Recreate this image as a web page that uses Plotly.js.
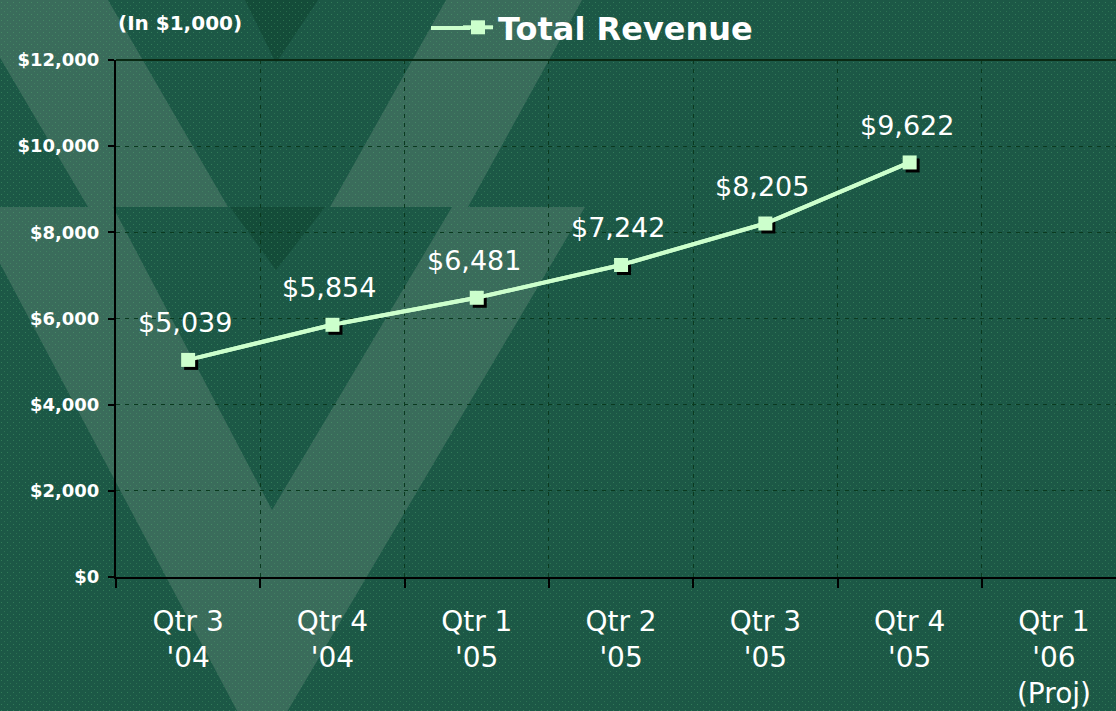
<!DOCTYPE html>
<html><head><meta charset="utf-8">
<script src="https://cdn.plot.ly/plotly-3.0.1.min.js"></script>
<style>
html,body{margin:0;padding:0;background:#1c5846;overflow:hidden}
#wrap{position:relative;width:1116px;height:711px}
#bg{position:absolute;left:0;top:0}
#chart{position:absolute;left:0;top:0;width:1116px;height:711px}
</style></head><body>
<div id="wrap">
<svg id="bg" width="1116" height="711" xmlns="http://www.w3.org/2000/svg">
  <defs>
    <pattern id="dots" width="6" height="6" patternUnits="userSpaceOnUse">
      <rect x="1" y="2" width="1" height="1" fill="rgba(90,190,120,0.35)"/>
      <rect x="4" y="5" width="1" height="1" fill="rgba(90,190,120,0.25)"/>
    </pattern>
  </defs>
  <rect x="0" y="0" width="1116" height="711" fill="#1c5846"/>
  <!-- upper band -->
  <polygon points="-34,0 108,0 228,207 88,207" fill="#3a6c5b"/>
  <polygon points="446,0 582,0 468,207 330,207" fill="#3a6c5b"/>
  <polygon points="245,0 318,0 276,63" fill="#144c39"/>
  <!-- lower band -->
  <polygon points="-30,207 585,207 261,756" fill="#3a6c5b"/>
  <polygon points="113,207 452,207 272,510" fill="#1c5846"/>
  <polygon points="230,207 325,207 276,270" fill="#144c39"/>
  <rect x="0" y="0" width="1116" height="711" fill="url(#dots)"/>
</svg>
<div id="chart"></div>
</div>
<script>
// ---- data ----
const quarters = ["Qtr 3<br>'04", "Qtr 4<br>'04", "Qtr 1<br>'05", "Qtr 2<br>'05", "Qtr 3<br>'05", "Qtr 4<br>'05", "Qtr 1<br>'06<br>(Proj)"];
const revenue = [5039, 5854, 6481, 7242, 8205, 9622, null];
const yTicks = [0, 2000, 4000, 6000, 8000, 10000, 12000];
const seriesName = "Total Revenue";
const unitNote = "(In $1,000)";

// ---- geometry ----
const W = 1116, H = 711;
const M = {l: 116, r: 0, t: 60, b: 134, pad: 0};
const xRange = [-0.5, 6.43];
const yRange = [0, 12000];
const plotW = W - M.l - M.r, plotH = H - M.t - M.b;
const shadowPx = 3;
const dx = shadowPx * (xRange[1] - xRange[0]) / plotW;
const dy = shadowPx * (yRange[1] - yRange[0]) / plotH;
const pxX = px => (px - M.l) / plotW;
const pxY = py => (H - M.b - py) / plotH;

const lineColor = '#ccffcc';
const fontFam = 'DejaVu Sans, Verdana, sans-serif';

const fmt = v => '$' + v.toLocaleString('en-US');

const traces = [
  { // base line on visible axes
    x: quarters, y: revenue, xaxis: 'x', yaxis: 'y', type: 'scatter', mode: 'lines',
    line: {color: lineColor, width: 4}, showlegend: false, hoverinfo: 'skip', connectgaps: false
  },
  { // marker shadows
    x: quarters, y: revenue, xaxis: 'x2', yaxis: 'y2', type: 'scatter', mode: 'markers',
    marker: {symbol: 'square', size: 14, color: '#000'}, showlegend: false, hoverinfo: 'skip'
  },
  { // main series
    x: quarters, y: revenue, xaxis: 'x3', yaxis: 'y3', type: 'scatter', mode: 'lines+markers',
    name: seriesName, line: {color: lineColor, width: 4},
    marker: {symbol: 'square', size: 14, color: lineColor}
  }
];

const annotations = revenue.map((v, i) => v == null ? null : ({
  x: quarters[i], y: v, xref: 'x', yref: 'y', text: fmt(v), showarrow: false,
  xshift: -3, yshift: 37, font: {family: fontFam, size: 27, color: '#ffffff'}
})).filter(a => a);
annotations.push({
  xref: 'paper', yref: 'paper', x: 0.0, y: pxY(23), xanchor: 'left', yanchor: 'middle',
  text: unitNote, showarrow: false, font: {family: fontFam, size: 20, color: '#ffffff', weight: 'bold'}
});

const gridCol = '#0a3a1f';
const layout = {
  width: W, height: H, autosize: false, margin: M,
  paper_bgcolor: 'rgba(0,0,0,0)', plot_bgcolor: 'rgba(0,0,0,0)',
  showlegend: true,
  legend: {
    x: 0.342, y: pxY(27), xanchor: 'left', yanchor: 'middle', orientation: 'h',
    bgcolor: 'rgba(0,0,0,0)', font: {family: fontFam, size: 32, color: '#ffffff', weight: 'bold'}
  },
  xaxis: {
    type: 'category', categoryorder: 'array', categoryarray: quarters, range: xRange,
    tickson: 'boundaries', ticks: 'outside', ticklen: 9, tickwidth: 2, tickcolor: '#000',
    showline: true, linecolor: '#000', linewidth: 2, ticklabelstandoff: 18,
    showgrid: true, gridcolor: gridCol, griddash: '4px,5px', gridwidth: 1,
    tickfont: {family: fontFam, size: 28, color: '#ffffff'}, fixedrange: true
  },
  yaxis: {
    range: yRange, tickmode: 'array', tickvals: yTicks, ticktext: yTicks.map(fmt),
    ticks: 'outside', ticklen: 6, tickwidth: 2, tickcolor: '#000', ticklabelstandoff: 5,
    showline: true, linecolor: '#000', linewidth: 2,
    showgrid: true, gridcolor: gridCol, griddash: '4px,5px', gridwidth: 1, zeroline: false,
    tickfont: {family: fontFam, size: 18, color: '#ffffff', weight: 'bold'}, fixedrange: true
  },
  xaxis2: {type: 'category', categoryorder: 'array', categoryarray: quarters, overlaying: 'x',
    range: [xRange[0] - dx, xRange[1] - dx], visible: false, fixedrange: true},
  yaxis2: {overlaying: 'y', range: [yRange[0] + dy, yRange[1] + dy], visible: false, fixedrange: true},
  xaxis3: {type: 'category', categoryorder: 'array', categoryarray: quarters, overlaying: 'x',
    range: xRange, visible: false, fixedrange: true},
  yaxis3: {overlaying: 'y', range: yRange, visible: false, fixedrange: true},
  shapes: [
    {type: 'line', xref: 'paper', yref: 'paper', x0: 0, x1: 1, y0: 1, y1: 1,
      line: {color: '#0a2a14', width: 2}},
    {type: 'line', xref: 'paper', yref: 'paper', x0: pxX(431), x1: pxX(470), y0: pxY(28), y1: pxY(28),
      line: {color: lineColor, width: 4}}
  ],
  annotations: annotations
};

Plotly.newPlot('chart', traces, layout, {displayModeBar: false, staticPlot: true});
</script>
</body></html>
